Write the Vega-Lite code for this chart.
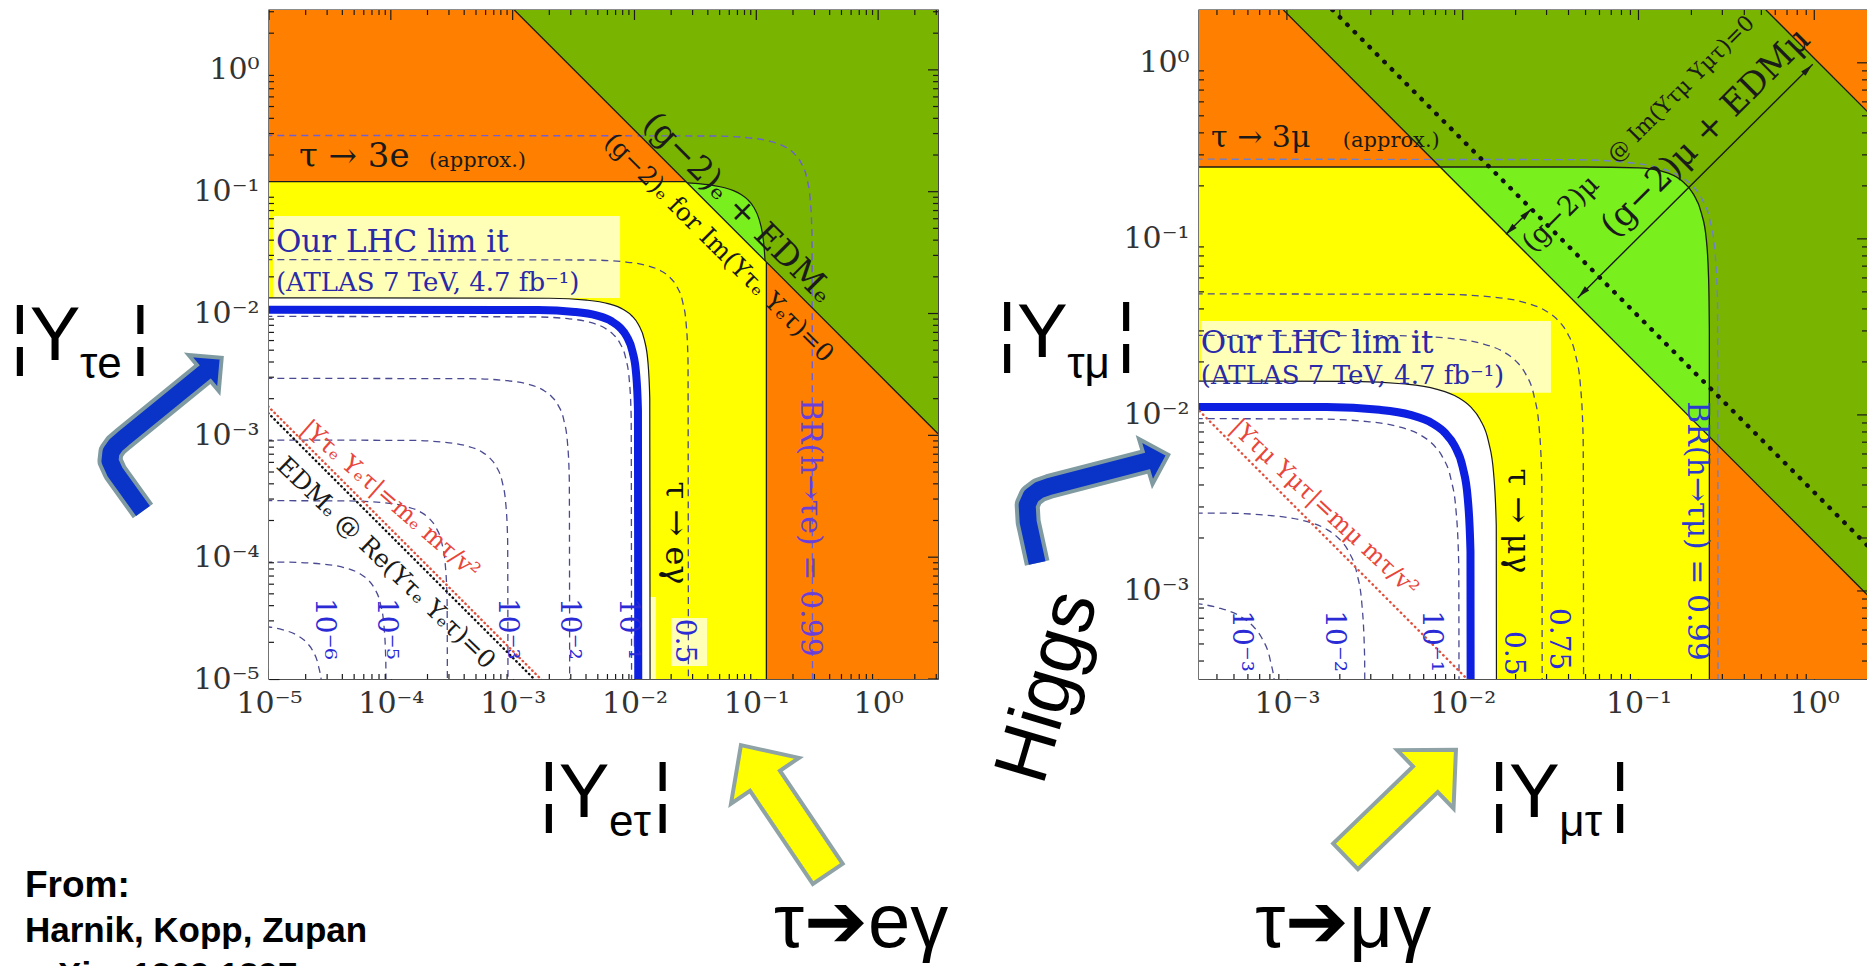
{
"$schema": "https://vega.github.io/schema/vega-lite/v6.json",
"usermeta": {"embedOptions": {"actions": false}},
"background": "white",
"padding": {"left": 9, "top": 9, "right": 0, "bottom": 0},
"bounds": "flush",
"spacing": 261,
"config": {
  "view": {"stroke": "#1a1a1a", "strokeWidth": 1.4},
  "axis": {"grid": false, "ticks": true, "tickSize": -10, "tickWidth": 1.2, "tickColor": "#1a1a1a", "domain": false, "labelFont": "DejaVu Serif", "labelFontSize": 30, "labelColor": "#333333", "labelFlush": false, "labelOverlap": false}
},
"datasets": {
  "tLmin": [{"x":2e-5,"y":1e-5},{"x":3e-5,"y":1e-5},{"x":4e-5,"y":1e-5},{"x":5e-5,"y":1e-5},{"x":6e-5,"y":1e-5},{"x":7e-5,"y":1e-5},{"x":8e-5,"y":1e-5},{"x":9e-5,"y":1e-5},
            {"x":2e-4,"y":1e-5},{"x":3e-4,"y":1e-5},{"x":4e-4,"y":1e-5},{"x":5e-4,"y":1e-5},{"x":6e-4,"y":1e-5},{"x":7e-4,"y":1e-5},{"x":8e-4,"y":1e-5},{"x":9e-4,"y":1e-5},
            {"x":2e-3,"y":1e-5},{"x":3e-3,"y":1e-5},{"x":4e-3,"y":1e-5},{"x":5e-3,"y":1e-5},{"x":6e-3,"y":1e-5},{"x":7e-3,"y":1e-5},{"x":8e-3,"y":1e-5},{"x":9e-3,"y":1e-5},
            {"x":0.02,"y":1e-5},{"x":0.03,"y":1e-5},{"x":0.04,"y":1e-5},{"x":0.05,"y":1e-5},{"x":0.06,"y":1e-5},{"x":0.07,"y":1e-5},{"x":0.08,"y":1e-5},{"x":0.09,"y":1e-5},
            {"x":0.2,"y":1e-5},{"x":0.3,"y":1e-5},{"x":0.4,"y":1e-5},{"x":0.5,"y":1e-5},{"x":0.6,"y":1e-5},{"x":0.7,"y":1e-5},{"x":0.8,"y":1e-5},{"x":0.9,"y":1e-5},
            {"x":2,"y":1e-5},{"x":3,"y":1e-5}],
  "tLall": [{"x":1e-5,"y":3.1,"m":1},{"x":2e-5,"y":3.1},{"x":3e-5,"y":3.1},{"x":4e-5,"y":3.1},{"x":5e-5,"y":3.1},{"x":6e-5,"y":3.1},{"x":7e-5,"y":3.1},{"x":8e-5,"y":3.1},{"x":9e-5,"y":3.1},
            {"x":1e-4,"y":3.1,"m":1},{"x":2e-4,"y":3.1},{"x":3e-4,"y":3.1},{"x":4e-4,"y":3.1},{"x":5e-4,"y":3.1},{"x":6e-4,"y":3.1},{"x":7e-4,"y":3.1},{"x":8e-4,"y":3.1},{"x":9e-4,"y":3.1},
            {"x":1e-3,"y":3.1,"m":1},{"x":2e-3,"y":3.1},{"x":3e-3,"y":3.1},{"x":4e-3,"y":3.1},{"x":5e-3,"y":3.1},{"x":6e-3,"y":3.1},{"x":7e-3,"y":3.1},{"x":8e-3,"y":3.1},{"x":9e-3,"y":3.1},
            {"x":0.01,"y":3.1,"m":1},{"x":0.02,"y":3.1},{"x":0.03,"y":3.1},{"x":0.04,"y":3.1},{"x":0.05,"y":3.1},{"x":0.06,"y":3.1},{"x":0.07,"y":3.1},{"x":0.08,"y":3.1},{"x":0.09,"y":3.1},
            {"x":0.1,"y":3.1,"m":1},{"x":0.2,"y":3.1},{"x":0.3,"y":3.1},{"x":0.4,"y":3.1},{"x":0.5,"y":3.1},{"x":0.6,"y":3.1},{"x":0.7,"y":3.1},{"x":0.8,"y":3.1},{"x":0.9,"y":3.1},
            {"x":1,"y":3.1,"m":1},{"x":2,"y":3.1},{"x":3,"y":3.1}],
  "tRmin": [{"x":4e-4,"y":3.162e-4},{"x":5e-4,"y":3.162e-4},{"x":6e-4,"y":3.162e-4},{"x":7e-4,"y":3.162e-4},{"x":8e-4,"y":3.162e-4},{"x":9e-4,"y":3.162e-4},
            {"x":2e-3,"y":3.162e-4},{"x":3e-3,"y":3.162e-4},{"x":4e-3,"y":3.162e-4},{"x":5e-3,"y":3.162e-4},{"x":6e-3,"y":3.162e-4},{"x":7e-3,"y":3.162e-4},{"x":8e-3,"y":3.162e-4},{"x":9e-3,"y":3.162e-4},
            {"x":0.02,"y":3.162e-4},{"x":0.03,"y":3.162e-4},{"x":0.04,"y":3.162e-4},{"x":0.05,"y":3.162e-4},{"x":0.06,"y":3.162e-4},{"x":0.07,"y":3.162e-4},{"x":0.08,"y":3.162e-4},{"x":0.09,"y":3.162e-4},
            {"x":0.2,"y":3.162e-4},{"x":0.3,"y":3.162e-4},{"x":0.4,"y":3.162e-4},{"x":0.5,"y":3.162e-4},{"x":0.6,"y":3.162e-4},{"x":0.7,"y":3.162e-4},{"x":0.8,"y":3.162e-4},{"x":0.9,"y":3.162e-4}],
  "tRall": [{"x":4e-4,"y":1.995},{"x":5e-4,"y":1.995},{"x":6e-4,"y":1.995},{"x":7e-4,"y":1.995},{"x":8e-4,"y":1.995},{"x":9e-4,"y":1.995},
            {"x":1e-3,"y":1.995,"m":1},{"x":2e-3,"y":1.995},{"x":3e-3,"y":1.995},{"x":4e-3,"y":1.995},{"x":5e-3,"y":1.995},{"x":6e-3,"y":1.995},{"x":7e-3,"y":1.995},{"x":8e-3,"y":1.995},{"x":9e-3,"y":1.995},
            {"x":0.01,"y":1.995,"m":1},{"x":0.02,"y":1.995},{"x":0.03,"y":1.995},{"x":0.04,"y":1.995},{"x":0.05,"y":1.995},{"x":0.06,"y":1.995},{"x":0.07,"y":1.995},{"x":0.08,"y":1.995},{"x":0.09,"y":1.995},
            {"x":0.1,"y":1.995,"m":1},{"x":0.2,"y":1.995},{"x":0.3,"y":1.995},{"x":0.4,"y":1.995},{"x":0.5,"y":1.995},{"x":0.6,"y":1.995},{"x":0.7,"y":1.995},{"x":0.8,"y":1.995},{"x":0.9,"y":1.995},
            {"x":1,"y":1.995,"m":1}],
  "cL": [
    {"c":"c6","x":1e-7,"y":2.85e-5},{"c":"c6","x":4.275e-6,"y":2.818e-5},{"c":"c6","x":8.55e-6,"y":2.719e-5},{"c":"c6","x":1.2825e-5,"y":2.545e-5},{"c":"c6","x":1.71e-5,"y":2.28e-5},{"c":"c6","x":2.015e-5,"y":2.015e-5},{"c":"c6","x":2.28e-5,"y":1.71e-5},{"c":"c6","x":2.545e-5,"y":1.2825e-5},{"c":"c6","x":2.719e-5,"y":8.55e-6},{"c":"c6","x":2.818e-5,"y":4.275e-6},{"c":"c6","x":2.85e-5,"y":1e-7},
    {"c":"c5","x":1e-7,"y":9.2e-5},{"c":"c5","x":1.38e-5,"y":9.096e-5},{"c":"c5","x":2.76e-5,"y":8.777e-5},{"c":"c5","x":4.14e-5,"y":8.216e-5},{"c":"c5","x":5.52e-5,"y":7.36e-5},{"c":"c5","x":6.505e-5,"y":6.505e-5},{"c":"c5","x":7.36e-5,"y":5.52e-5},{"c":"c5","x":8.216e-5,"y":4.14e-5},{"c":"c5","x":8.777e-5,"y":2.76e-5},{"c":"c5","x":9.096e-5,"y":1.38e-5},{"c":"c5","x":9.2e-5,"y":1e-7},
    {"c":"c4","x":1e-7,"y":2.93e-4},{"c":"c4","x":4.395e-5,"y":2.897e-4},{"c":"c4","x":8.79e-5,"y":2.795e-4},{"c":"c4","x":1.3185e-4,"y":2.616e-4},{"c":"c4","x":1.758e-4,"y":2.344e-4},{"c":"c4","x":2.072e-4,"y":2.072e-4},{"c":"c4","x":2.344e-4,"y":1.758e-4},{"c":"c4","x":2.616e-4,"y":1.3185e-4},{"c":"c4","x":2.795e-4,"y":8.79e-5},{"c":"c4","x":2.897e-4,"y":4.395e-5},{"c":"c4","x":2.93e-4,"y":1e-7},
    {"c":"c3","x":1e-7,"y":9.2e-4},{"c":"c3","x":1.38e-4,"y":9.096e-4},{"c":"c3","x":2.76e-4,"y":8.777e-4},{"c":"c3","x":4.14e-4,"y":8.216e-4},{"c":"c3","x":5.52e-4,"y":7.36e-4},{"c":"c3","x":6.505e-4,"y":6.505e-4},{"c":"c3","x":7.36e-4,"y":5.52e-4},{"c":"c3","x":8.216e-4,"y":4.14e-4},{"c":"c3","x":8.777e-4,"y":2.76e-4},{"c":"c3","x":9.096e-4,"y":1.38e-4},{"c":"c3","x":9.2e-4,"y":1e-7},
    {"c":"c2","x":1e-7,"y":2.95e-3},{"c":"c2","x":4.425e-4,"y":2.917e-3},{"c":"c2","x":8.85e-4,"y":2.814e-3},{"c":"c2","x":1.3275e-3,"y":2.634e-3},{"c":"c2","x":1.77e-3,"y":2.36e-3},{"c":"c2","x":2.086e-3,"y":2.086e-3},{"c":"c2","x":2.36e-3,"y":1.77e-3},{"c":"c2","x":2.634e-3,"y":1.3275e-3},{"c":"c2","x":2.814e-3,"y":8.85e-4},{"c":"c2","x":2.917e-3,"y":4.425e-4},{"c":"c2","x":2.95e-3,"y":1e-7},
    {"c":"c1","x":1e-7,"y":9.5e-3},{"c":"c1","x":1.425e-3,"y":9.393e-3},{"c":"c1","x":2.85e-3,"y":9.063e-3},{"c":"c1","x":4.275e-3,"y":8.484e-3},{"c":"c1","x":5.7e-3,"y":7.6e-3},{"c":"c1","x":6.717e-3,"y":6.717e-3},{"c":"c1","x":7.6e-3,"y":5.7e-3},{"c":"c1","x":8.484e-3,"y":4.275e-3},{"c":"c1","x":9.063e-3,"y":2.85e-3},{"c":"c1","x":9.393e-3,"y":1.425e-3},{"c":"c1","x":9.5e-3,"y":1e-7},
    {"c":"c05","x":1e-7,"y":0.0278},{"c":"c05","x":4.17e-3,"y":0.02749},{"c":"c05","x":8.34e-3,"y":0.02652},{"c":"c05","x":0.01251,"y":0.02483},{"c":"c05","x":0.01668,"y":0.02224},{"c":"c05","x":0.01966,"y":0.01966},{"c":"c05","x":0.02224,"y":0.01668},{"c":"c05","x":0.02483,"y":0.01251},{"c":"c05","x":0.02652,"y":8.34e-3},{"c":"c05","x":0.02749,"y":4.17e-3},{"c":"c05","x":0.0278,"y":1e-7},
    {"c":"c99","x":1e-7,"y":0.29},{"c":"c99","x":0.0435,"y":0.2867},{"c":"c99","x":0.087,"y":0.2767},{"c":"c99","x":0.1305,"y":0.259},{"c":"c99","x":0.174,"y":0.232},{"c":"c99","x":0.2051,"y":0.2051},{"c":"c99","x":0.232,"y":0.174},{"c":"c99","x":0.259,"y":0.1305},{"c":"c99","x":0.2767,"y":0.087},{"c":"c99","x":0.2867,"y":0.0435},{"c":"c99","x":0.29,"y":1e-7},
    {"c":"w","x":1e-7,"y":0.0135},{"c":"w","x":2.025e-3,"y":0.013347},{"c":"w","x":4.05e-3,"y":0.012879},{"c":"w","x":6.075e-3,"y":0.012056},{"c":"w","x":8.1e-3,"y":0.0108},{"c":"w","x":9.546e-3,"y":9.546e-3},{"c":"w","x":0.0108,"y":8.1e-3},{"c":"w","x":0.012056,"y":6.075e-3},{"c":"w","x":0.012879,"y":4.05e-3},{"c":"w","x":0.013347,"y":2.025e-3},{"c":"w","x":0.0135,"y":1e-7},
    {"c":"b","x":1e-7,"y":0.0108},{"c":"b","x":1.62e-3,"y":0.010678},{"c":"b","x":3.24e-3,"y":0.010303},{"c":"b","x":4.86e-3,"y":9.644e-3},{"c":"b","x":6.48e-3,"y":8.64e-3},{"c":"b","x":7.637e-3,"y":7.637e-3},{"c":"b","x":8.64e-3,"y":6.48e-3},{"c":"b","x":9.644e-3,"y":4.86e-3},{"c":"b","x":0.010303,"y":3.24e-3},{"c":"b","x":0.010678,"y":1.62e-3},{"c":"b","x":0.0108,"y":1e-7}
  ],
  "cR": [
    {"c":"r3","x":1e-7,"y":9e-4},{"c":"r3","x":1.35e-4,"y":8.898e-4},{"c":"r3","x":2.7e-4,"y":8.586e-4},{"c":"r3","x":4.05e-4,"y":8.037e-4},{"c":"r3","x":5.4e-4,"y":7.2e-4},{"c":"r3","x":6.364e-4,"y":6.364e-4},{"c":"r3","x":7.2e-4,"y":5.4e-4},{"c":"r3","x":8.037e-4,"y":4.05e-4},{"c":"r3","x":8.586e-4,"y":2.7e-4},{"c":"r3","x":8.898e-4,"y":1.35e-4},{"c":"r3","x":9e-4,"y":1e-7},
    {"c":"r2","x":1e-7,"y":2.8e-3},{"c":"r2","x":4.2e-4,"y":2.768e-3},{"c":"r2","x":8.4e-4,"y":2.671e-3},{"c":"r2","x":1.26e-3,"y":2.5e-3},{"c":"r2","x":1.68e-3,"y":2.24e-3},{"c":"r2","x":1.98e-3,"y":1.98e-3},{"c":"r2","x":2.24e-3,"y":1.68e-3},{"c":"r2","x":2.5e-3,"y":1.26e-3},{"c":"r2","x":2.671e-3,"y":8.4e-4},{"c":"r2","x":2.768e-3,"y":4.2e-4},{"c":"r2","x":2.8e-3,"y":1e-7},
    {"c":"r1","x":1e-7,"y":9.6e-3},{"c":"r1","x":1.44e-3,"y":9.492e-3},{"c":"r1","x":2.88e-3,"y":9.158e-3},{"c":"r1","x":4.32e-3,"y":8.573e-3},{"c":"r1","x":5.76e-3,"y":7.68e-3},{"c":"r1","x":6.788e-3,"y":6.788e-3},{"c":"r1","x":7.68e-3,"y":5.76e-3},{"c":"r1","x":8.573e-3,"y":4.32e-3},{"c":"r1","x":9.158e-3,"y":2.88e-3},{"c":"r1","x":9.492e-3,"y":1.44e-3},{"c":"r1","x":9.6e-3,"y":1e-7},
    {"c":"r05","x":1e-7,"y":0.0285},{"c":"r05","x":4.275e-3,"y":0.02818},{"c":"r05","x":8.55e-3,"y":0.02719},{"c":"r05","x":0.012825,"y":0.02545},{"c":"r05","x":0.0171,"y":0.0228},{"c":"r05","x":0.02015,"y":0.02015},{"c":"r05","x":0.0228,"y":0.0171},{"c":"r05","x":0.02545,"y":0.012825},{"c":"r05","x":0.02719,"y":8.55e-3},{"c":"r05","x":0.02818,"y":4.275e-3},{"c":"r05","x":0.0285,"y":1e-7},
    {"c":"r75","x":1e-7,"y":0.049},{"c":"r75","x":7.35e-3,"y":0.04845},{"c":"r75","x":0.0147,"y":0.04675},{"c":"r75","x":0.02205,"y":0.04376},{"c":"r75","x":0.0294,"y":0.0392},{"c":"r75","x":0.03465,"y":0.03465},{"c":"r75","x":0.0392,"y":0.0294},{"c":"r75","x":0.04376,"y":0.02205},{"c":"r75","x":0.04675,"y":0.0147},{"c":"r75","x":0.04845,"y":7.35e-3},{"c":"r75","x":0.049,"y":1e-7},
    {"c":"r99","x":1e-7,"y":0.285},{"c":"r99","x":0.04275,"y":0.2818},{"c":"r99","x":0.0855,"y":0.2719},{"c":"r99","x":0.12825,"y":0.2545},{"c":"r99","x":0.171,"y":0.228},{"c":"r99","x":0.2015,"y":0.2015},{"c":"r99","x":0.228,"y":0.171},{"c":"r99","x":0.2545,"y":0.12825},{"c":"r99","x":0.2719,"y":0.0855},{"c":"r99","x":0.2818,"y":0.04275},{"c":"r99","x":0.285,"y":1e-7},
    {"c":"w","x":1e-7,"y":0.0157},{"c":"w","x":2.355e-3,"y":0.015523},{"c":"w","x":4.71e-3,"y":0.014978},{"c":"w","x":7.065e-3,"y":0.01402},{"c":"w","x":9.42e-3,"y":0.01256},{"c":"w","x":0.011101,"y":0.011101},{"c":"w","x":0.01256,"y":9.42e-3},{"c":"w","x":0.01402,"y":7.065e-3},{"c":"w","x":0.014978,"y":4.71e-3},{"c":"w","x":0.015523,"y":2.355e-3},{"c":"w","x":0.0157,"y":1e-7},
    {"c":"b","x":1e-7,"y":0.0112},{"c":"b","x":1.68e-3,"y":0.011073},{"c":"b","x":3.36e-3,"y":0.010685},{"c":"b","x":5.04e-3,"y":0.010002},{"c":"b","x":6.72e-3,"y":8.96e-3},{"c":"b","x":7.92e-3,"y":7.92e-3},{"c":"b","x":8.96e-3,"y":6.72e-3},{"c":"b","x":0.010002,"y":5.04e-3},{"c":"b","x":0.010685,"y":3.36e-3},{"c":"b","x":0.011073,"y":1.68e-3},{"c":"b","x":0.0112,"y":1e-7}
  ],
  "lgL": [{"x":0.02714,"y":0.11792,"y2":0.1179},{"x":0.035,"y":0.11583,"y2":0.09143},{"x":0.045,"y":0.11232,"y2":0.07111},{"x":0.055,"y":0.10778,"y2":0.05818},{"x":0.065,"y":0.10206,"y2":0.04923},{"x":0.075,"y":0.09495,"y2":0.04267},{"x":0.085,"y":0.08612,"y2":0.03765},{"x":0.095,"y":0.07494,"y2":0.03368},{"x":0.105,"y":0.06013,"y2":0.03048},{"x":0.112,"y":0.04579,"y2":0.02857},{"x":0.116,"y":0.03442,"y2":0.02759},{"x":0.11792,"y":0.02714,"y2":0.02714}],
  "lgR": [{"x":7.44e-3,"y":0.256,"y2":0.256},{"x":0.02,"y":0.256,"y2":0.09525},{"x":0.05,"y":0.256,"y2":0.0381},{"x":0.1,"y":0.253,"y2":0.01905},{"x":0.134,"y":0.243,"y2":0.01422},{"x":0.175,"y":0.215,"y2":0.01089},{"x":0.205,"y":0.18,"y2":0.00929},{"x":0.228,"y":0.14,"y2":0.00836},{"x":0.243,"y":0.1,"y2":0.00784},{"x":0.2505,"y":0.06,"y2":0.0076},{"x":0.253,"y":0.03,"y2":0.00753},{"x":0.2531,"y":0.00753,"y2":0.00753}],
  "arr": [
    {"a":"L","i":0,"x":9.237e-7,"y":2.395e-4},{"a":"L","i":1,"x":5.439e-7,"y":5.006e-4},{"a":"L","i":2,"x":4.95e-7,"y":6.163e-4},{"a":"L","i":3,"x":5.044e-7,"y":7.306e-4},{"a":"L","i":4,"x":5.542e-7,"y":8.34e-4},{"a":"L","i":5,"x":6.329e-7,"y":9.341e-4},{"a":"L","i":6,"x":3.068e-6,"y":3.378e-3},
    {"a":"R","i":0,"x":20.2,"y":8.96e-5},{"a":"R","i":1,"x":17.04,"y":1.945e-4},{"a":"R","i":2,"x":16.72,"y":2.683e-4},{"a":"R","i":3,"x":18.04,"y":3.181e-4},{"a":"R","i":4,"x":20.98,"y":3.562e-4},{"a":"R","i":5,"x":25.34,"y":3.806e-4},{"a":"R","i":6,"x":171.1,"y":6.246e-4}
  ]
},
"hconcat": [
{
  "width": 669, "height": 669,
  "encoding": {
    "x": {"field": "x", "type": "quantitative", "scale": {"type": "log", "domain": [1e-5, 3.1], "nice": false}, "axis": {"title": null, "values": [1e-5, 1e-4, 1e-3, 0.01, 0.1, 1], "labelPadding": 19, "labelExpr": "datum.value < 2e-5 ? '10⁻⁵' : datum.value < 2e-4 ? '10⁻⁴' : datum.value < 2e-3 ? '10⁻³' : datum.value < 0.02 ? '10⁻²' : datum.value < 0.2 ? '10⁻¹' : '10⁰'"}},
    "y": {"field": "y", "type": "quantitative", "stack": null, "scale": {"type": "log", "domain": [1e-5, 3.1], "nice": false}, "axis": {"title": null, "values": [1e-5, 1e-4, 1e-3, 0.01, 0.1, 1], "labelPadding": 20, "labelExpr": "datum.value < 2e-5 ? '10⁻⁵' : datum.value < 2e-4 ? '10⁻⁴' : datum.value < 2e-3 ? '10⁻³' : datum.value < 0.02 ? '10⁻²' : datum.value < 0.2 ? '10⁻¹' : '10⁰'"}}
  },
  "layer": [
    {"data": {"values": [{"x": 1e-5, "x2": 3.1, "y": 1e-5, "y2": 3.1}]}, "mark": {"type": "rect", "color": "#ff8000"}, "encoding": {"x2": {"field": "x2"}, "y2": {"field": "y2"}}},
    {"data": {"values": [{"x": 1e-5, "x2": 0.121, "y": 1e-5, "y2": 0.121}]}, "mark": {"type": "rect", "color": "#ffff00"}, "encoding": {"x2": {"field": "x2"}, "y2": {"field": "y2"}}},
    {"data": {"values": [{"x": 1.032e-3, "y": 3.1, "y2": 3.1}, {"x": 3.1, "y": 1.032e-3, "y2": 3.1}]}, "mark": {"type": "area", "color": "#78b400", "clip": true}, "encoding": {"y2": {"field": "y2"}}},
    {"data": {"name": "lgL"}, "mark": {"type": "area", "color": "#7aef1e", "interpolate": "monotone", "clip": true}, "encoding": {"y2": {"field": "y2"}}},
    {"data": {"name": "cL"}, "transform": [{"filter": "datum.c == 'w'"}], "mark": {"type": "area", "color": "#ffffff", "interpolate": "monotone", "clip": true}, "encoding": {"y2": {"datum": 1e-7}}},
    {"data": {"values": [{"x": 1.08e-5, "x2": 7.62e-3, "y": 0.01343, "y2": 0.0632}, {"x": 0.01995, "x2": 0.0394, "y": 1.28e-5, "y2": 3.17e-5}, {"x": 6.67e-3, "x2": 0.01503, "y": 1e-5, "y2": 4.71e-5}]}, "mark": {"type": "rect", "color": "#ffffff", "opacity": 0.72}, "encoding": {"x2": {"field": "x2"}, "y2": {"field": "y2"}}},
    {"data": {"name": "cL"}, "transform": [{"filter": {"field": "c", "oneOf": ["c6", "c5", "c4", "c3", "c2", "c1", "c05"]}}], "mark": {"type": "line", "color": "#4a4a92", "strokeWidth": 1.3, "strokeDash": [7, 5], "interpolate": "monotone", "clip": true}, "encoding": {"detail": {"field": "c"}}},
    {"data": {"name": "cL"}, "transform": [{"filter": "datum.c == 'c99'"}], "mark": {"type": "line", "color": "#6e5fd6", "strokeWidth": 1.4, "strokeDash": [7, 5], "interpolate": "monotone", "clip": true}, "encoding": {}},
    {"data": {"values": [{"s": "d", "x": 1.032e-3, "y": 3.1}, {"s": "d", "x": 3.1, "y": 1.032e-3}, {"s": "h", "x": 1e-5, "y": 0.121}, {"s": "h", "x": 0.02645, "y": 0.121}, {"s": "v", "x": 0.121, "y": 1e-5}, {"s": "v", "x": 0.121, "y": 0.02645}]}, "mark": {"type": "line", "color": "#1a1a1a", "strokeWidth": 1.3, "clip": true}, "encoding": {"detail": {"field": "s"}}},
    {"data": {"name": "cL"}, "transform": [{"filter": "datum.c == 'w'"}], "mark": {"type": "line", "color": "#1a1a1a", "strokeWidth": 1.2, "interpolate": "monotone", "clip": true}, "encoding": {}},
    {"data": {"name": "lgL"}, "mark": {"type": "line", "color": "#1a1a1a", "strokeWidth": 1.2, "interpolate": "monotone", "clip": true}, "encoding": {}},
    {"data": {"name": "cL"}, "transform": [{"filter": "datum.c == 'b'"}], "mark": {"type": "line", "color": "#0d1fe0", "strokeWidth": 8, "interpolate": "monotone", "clip": true}, "encoding": {}},
    {"data": {"values": [{"x": 1e-6, "y": 0.015}, {"x": 0.015, "y": 1e-6}]}, "mark": {"type": "line", "color": "#111111", "strokeWidth": 2.4, "strokeDash": [0.5, 4], "strokeCap": "round", "clip": true}, "encoding": {}},
    {"data": {"values": [{"x": 1e-6, "y": 0.017}, {"x": 0.017, "y": 1e-6}]}, "mark": {"type": "line", "color": "#e0503c", "strokeWidth": 2.4, "strokeDash": [0.5, 4], "strokeCap": "round", "clip": true}, "encoding": {}},

    {"data": {"values": [{"t": "τ → 3e", "x": 1.76e-5, "y": 0.158}]}, "mark": {"type": "text", "font": "DejaVu Serif", "fontSize": 34, "color": "#1a1a1a", "align": "left", "baseline": "alphabetic", "clip": true}, "encoding": {"text": {"field": "t"}}},
    {"data": {"values": [{"t": "(approx.)", "x": 2.06e-4, "y": 0.158}]}, "mark": {"type": "text", "font": "DejaVu Serif", "fontSize": 21, "color": "#1a1a1a", "align": "left", "baseline": "alphabetic", "clip": true}, "encoding": {"text": {"field": "t"}}},
    {"data": {"values": [{"t": "(g−2)ₑ + EDMₑ", "x": 0.071, "y": 0.0736}]}, "mark": {"type": "text", "font": "DejaVu Serif", "fontSize": 33, "color": "#1a1a1a", "angle": 45, "align": "center", "baseline": "middle", "clip": true}, "encoding": {"text": {"field": "t"}}},
    {"data": {"values": [{"t": "(g−2)ₑ for Im(Yτₑ Yₑτ)=0", "x": 0.0495, "y": 0.0346}]}, "mark": {"type": "text", "font": "DejaVu Serif", "fontSize": 25, "color": "#1a1a1a", "angle": 45, "align": "center", "baseline": "middle", "clip": true}, "encoding": {"text": {"field": "t"}}},
    {"data": {"values": [{"t": "Our LHC lim it", "x": 1.14e-5, "y": 0.0321}]}, "mark": {"type": "text", "font": "DejaVu Serif", "fontSize": 31, "color": "#2a2aa8", "align": "left", "baseline": "alphabetic", "clip": true}, "encoding": {"text": {"field": "t"}}},
    {"data": {"values": [{"t": "(ATLAS 7 TeV, 4.7 fb⁻¹)", "x": 1.14e-5, "y": 0.0152}]}, "mark": {"type": "text", "font": "DejaVu Serif", "fontSize": 26, "color": "#2a2aa8", "align": "left", "baseline": "alphabetic", "clip": true}, "encoding": {"text": {"field": "t"}}},
    {"data": {"values": [{"t": "τ → eγ", "x": 0.022, "y": 1.58e-4}]}, "mark": {"type": "text", "font": "DejaVu Serif", "fontSize": 32, "color": "#111111", "angle": 90, "align": "center", "baseline": "middle", "clip": true}, "encoding": {"text": {"field": "t"}}},
    {"data": {"values": [{"t": "BR(h→τe) = 0.99", "x": 0.2767, "y": 1.74e-4}]}, "mark": {"type": "text", "font": "DejaVu Serif", "fontSize": 30, "color": "#6a3fd8", "angle": 90, "align": "center", "baseline": "middle", "clip": true}, "encoding": {"text": {"field": "t"}}},
    {"data": {"values": [{"t": "10⁻⁶", "x": 2.85e-5, "y": 2.58e-5}, {"t": "10⁻⁵", "x": 9.2e-5, "y": 2.58e-5}, {"t": "10⁻³", "x": 9.0e-4, "y": 2.58e-5}, {"t": "10⁻²", "x": 2.9e-3, "y": 2.58e-5}, {"t": "10⁻¹", "x": 8.85e-3, "y": 2.58e-5}, {"t": "0.5", "x": 0.0255, "y": 2.05e-5}]}, "mark": {"type": "text", "font": "DejaVu Serif", "fontSize": 28, "color": "#2b2bd6", "angle": 90, "align": "center", "baseline": "middle", "clip": true}, "encoding": {"text": {"field": "t"}}},
    {"data": {"values": [{"t": "|Yτₑ Yₑτ|=mₑ mτ/v²", "x": 9.84e-5, "y": 2.95e-4}]}, "mark": {"type": "text", "font": "DejaVu Serif", "fontSize": 24, "color": "#e8463a", "angle": 41, "align": "center", "baseline": "middle", "clip": true}, "encoding": {"text": {"field": "t"}}},
    {"data": {"values": [{"t": "EDMₑ @ Re(Yτₑ Yₑτ)=0", "x": 9.14e-5, "y": 8.95e-5}]}, "mark": {"type": "text", "font": "DejaVu Serif", "fontSize": 25, "color": "#1a1a1a", "angle": 44, "align": "center", "baseline": "middle", "clip": true}, "encoding": {"text": {"field": "t"}}},

    {"data": {"name": "tLmin"}, "mark": {"type": "tick", "orient": "vertical", "size": 10, "thickness": 1.2, "color": "#1a1a1a", "opacity": 1, "clip": true}, "encoding": {}},
    {"data": {"name": "tLmin"}, "mark": {"type": "tick", "orient": "horizontal", "size": 10, "thickness": 1.2, "color": "#1a1a1a", "opacity": 1, "clip": true}, "encoding": {"x": {"field": "y", "type": "quantitative"}, "y": {"field": "x", "type": "quantitative"}}},
    {"data": {"name": "tLall"}, "mark": {"type": "tick", "orient": "vertical", "thickness": 1.2, "color": "#1a1a1a", "opacity": 1, "clip": true}, "encoding": {"size": {"condition": {"test": "datum.m == 1", "value": 20}, "value": 10}}},
    {"data": {"name": "tLall"}, "mark": {"type": "tick", "orient": "horizontal", "thickness": 1.2, "color": "#1a1a1a", "opacity": 1, "clip": true}, "encoding": {"x": {"field": "y", "type": "quantitative"}, "y": {"field": "x", "type": "quantitative"}, "size": {"condition": {"test": "datum.m == 1", "value": 20}, "value": 10}}},

    {"data": {"values": [{"t": "¦Y", "x": 7.474e-8, "y": 4.159e-3}, {"t": "¦", "x": 7.306e-7, "y": 4.159e-3}, {"t": "¦Y", "x": 1.647e-3, "y": 7.362e-7}, {"t": "¦", "x": 0.01411, "y": 7.362e-7}, {"t": "¦Y", "x": 9.484, "y": 4.402e-3}, {"t": "¦", "x": 89.95, "y": 4.402e-3}, {"t": "¦Y", "x": 1.039e5, "y": 7.362e-7}, {"t": "¦", "x": 1.023e6, "y": 7.362e-7}]}, "mark": {"type": "text", "font": "Liberation Sans", "fontSize": 76, "color": "#000000", "align": "left", "baseline": "alphabetic"}, "encoding": {"text": {"field": "t"}}},
    {"data": {"values": [{"t": "τe", "x": 2.808e-7, "y": 2.96e-3}, {"t": "eτ", "x": 6.186e-3, "y": 5.14e-7}, {"t": "τμ", "x": 35.63, "y": 2.96e-3}, {"t": "μτ", "x": 3.9e5, "y": 5.14e-7}]}, "mark": {"type": "text", "font": "Liberation Sans", "fontSize": 44, "color": "#000000", "align": "left", "baseline": "alphabetic"}, "encoding": {"text": {"field": "t"}}},
    {"data": {"values": [{"t": "Higgs", "x": 24.87, "y": 8.59e-6}]}, "mark": {"type": "text", "font": "Liberation Sans", "fontSize": 76, "color": "#000000", "angle": -73.5, "align": "center", "baseline": "middle"}, "encoding": {"text": {"field": "t"}}},
    {"data": {"values": [{"t": "τ➔eγ", "x": 0.7251, "y": 6.306e-8}, {"t": "τ➔μγ", "x": 6573, "y": 6.306e-8}]}, "mark": {"type": "text", "font": "Liberation Sans", "fontSize": 76, "color": "#000000", "align": "center", "baseline": "alphabetic"}, "encoding": {"text": {"field": "t"}}},
    {"data": {"values": [{"t": "From:", "x": 9.925e-8, "y": 1.632e-7}]}, "mark": {"type": "text", "font": "Liberation Sans", "fontWeight": "bold", "fontSize": 37, "color": "#000000", "align": "left", "baseline": "alphabetic"}, "encoding": {"text": {"field": "t"}}},
    {"data": {"values": [{"t": "Harnik, Kopp, Zupan", "x": 9.925e-8, "y": 6.968e-8}, {"t": "arXiv: 1209.1397", "x": 9.925e-8, "y": 2.977e-8}]}, "mark": {"type": "text", "font": "Liberation Sans", "fontWeight": "bold", "fontSize": 35, "color": "#000000", "align": "left", "baseline": "alphabetic"}, "encoding": {"text": {"field": "t"}}},

    {"data": {"name": "arr"}, "mark": {"type": "line", "color": "#7f9aa1", "strokeWidth": 25, "strokeJoin": "round", "strokeCap": "butt"}, "encoding": {"detail": {"field": "a"}, "order": {"field": "i"}}},
    {"data": {"values": [{"x": 3.45e-6, "y": 3.75e-3}]}, "mark": {"type": "point", "shape": "M-1,0.5L0,-0.5L1,0.5Z", "size": 2209, "angle": 50, "filled": true, "fill": "#0a33c8", "stroke": "#7f9aa1", "strokeWidth": 4, "opacity": 1}, "encoding": {}},
    {"data": {"values": [{"x": 194.5, "y": 6.499e-4}]}, "mark": {"type": "point", "shape": "M-1,0.5L0,-0.5L1,0.5Z", "size": 2209, "angle": 73.3, "filled": true, "fill": "#0a33c8", "stroke": "#7f9aa1", "strokeWidth": 4, "opacity": 1}, "encoding": {}},
    {"data": {"name": "arr"}, "mark": {"type": "line", "color": "#0a33c8", "strokeWidth": 17, "strokeJoin": "round", "strokeCap": "butt"}, "encoding": {"detail": {"field": "a"}, "order": {"field": "i"}}},
    {"data": {"values": [{"x": 0.1699, "y": 8.485e-7}]}, "mark": {"type": "point", "shape": "M0,-1L0.528,-0.446L0.232,-0.446L0.232,1L-0.232,1L-0.232,-0.446L-0.528,-0.446Z", "size": 24118, "angle": -34, "filled": true, "fill": "#ffff00", "stroke": "#8fa3a7", "strokeWidth": 4, "opacity": 1}, "encoding": {}},
    {"data": {"values": [{"x": 19490, "y": 9.592e-7}]}, "mark": {"type": "point", "shape": "M0,-1L0.528,-0.446L0.232,-0.446L0.232,1L-0.232,1L-0.232,-0.446L-0.528,-0.446Z", "size": 23562, "angle": 46, "filled": true, "fill": "#ffff00", "stroke": "#8fa3a7", "strokeWidth": 4, "opacity": 1}, "encoding": {}}
  ]
},
{
  "width": 668, "height": 669,
  "encoding": {
    "x": {"field": "x", "type": "quantitative", "scale": {"type": "log", "domain": [3.162e-4, 1.995], "nice": false}, "axis": {"title": null, "values": [1e-3, 0.01, 0.1, 1], "labelPadding": 19, "labelExpr": "datum.value < 2e-5 ? '10⁻⁵' : datum.value < 2e-4 ? '10⁻⁴' : datum.value < 2e-3 ? '10⁻³' : datum.value < 0.02 ? '10⁻²' : datum.value < 0.2 ? '10⁻¹' : '10⁰'"}},
    "y": {"field": "y", "type": "quantitative", "stack": null, "scale": {"type": "log", "domain": [3.162e-4, 1.995], "nice": false}, "axis": {"title": null, "values": [1e-3, 0.01, 0.1, 1], "labelPadding": 20, "labelExpr": "datum.value < 2e-5 ? '10⁻⁵' : datum.value < 2e-4 ? '10⁻⁴' : datum.value < 2e-3 ? '10⁻³' : datum.value < 0.02 ? '10⁻²' : datum.value < 0.2 ? '10⁻¹' : '10⁰'"}}
  },
  "layer": [
    {"data": {"values": [{"x": 3.162e-4, "x2": 1.995, "y": 3.162e-4, "y2": 1.995}]}, "mark": {"type": "rect", "color": "#ff8000"}, "encoding": {"x2": {"field": "x2"}, "y2": {"field": "y2"}}},
    {"data": {"values": [{"x": 3.162e-4, "x2": 0.253, "y": 3.162e-4, "y2": 0.256}]}, "mark": {"type": "rect", "color": "#ffff00"}, "encoding": {"x2": {"field": "x2"}, "y2": {"field": "y2"}}},
    {"data": {"values": [{"x": 9.525e-4, "y": 2.0, "y2": 2.0}, {"x": 0.53, "y": 2.0, "y2": 3.594e-3}, {"x": 2.0, "y": 0.53, "y2": 9.525e-4}]}, "mark": {"type": "area", "color": "#78b400", "clip": true}, "encoding": {"y2": {"field": "y2"}}},
    {"data": {"name": "lgR"}, "mark": {"type": "area", "color": "#7aef1e", "interpolate": "monotone", "clip": true}, "encoding": {"y2": {"field": "y2"}}},
    {"data": {"name": "cR"}, "transform": [{"filter": "datum.c == 'w'"}], "mark": {"type": "area", "color": "#ffffff", "interpolate": "monotone", "clip": true}, "encoding": {"y2": {"datum": 1e-7}}},
    {"data": {"values": [{"x": 3.24e-4, "x2": 0.03177, "y": 0.01336, "y2": 0.0341}]}, "mark": {"type": "rect", "color": "#ffffff", "opacity": 0.72}, "encoding": {"x2": {"field": "x2"}, "y2": {"field": "y2"}}},
    {"data": {"name": "cR"}, "transform": [{"filter": {"field": "c", "oneOf": ["r3", "r2", "r1", "r05", "r75"]}}], "mark": {"type": "line", "color": "#4a4a92", "strokeWidth": 1.3, "strokeDash": [7, 5], "interpolate": "monotone", "clip": true}, "encoding": {"detail": {"field": "c"}}},
    {"data": {"name": "cR"}, "transform": [{"filter": "datum.c == 'r99'"}], "mark": {"type": "line", "color": "#6f7fd0", "strokeWidth": 1.4, "strokeDash": [7, 5], "interpolate": "monotone", "clip": true}, "encoding": {}},
    {"data": {"values": [{"s": "a", "x": 9.525e-4, "y": 2.0}, {"s": "a", "x": 2.0, "y": 9.525e-4}, {"s": "b", "x": 0.53, "y": 2.0}, {"s": "b", "x": 2.0, "y": 0.53}]}, "mark": {"type": "line", "color": "#1a1a1a", "strokeWidth": 1.3, "clip": true}, "encoding": {"detail": {"field": "s"}}},
    {"data": {"values": [{"x": 3.162e-4, "y": 0.256}, {"x": 0.02, "y": 0.256}, {"x": 0.05, "y": 0.256}, {"x": 0.1, "y": 0.253}, {"x": 0.134, "y": 0.243}, {"x": 0.175, "y": 0.215}, {"x": 0.205, "y": 0.18}, {"x": 0.228, "y": 0.14}, {"x": 0.243, "y": 0.1}, {"x": 0.2505, "y": 0.06}, {"x": 0.253, "y": 0.03}, {"x": 0.2531, "y": 3.0e-4}]}, "mark": {"type": "line", "color": "#1a1a1a", "strokeWidth": 1.3, "interpolate": "monotone", "clip": true}, "encoding": {}},
    {"data": {"name": "cR"}, "transform": [{"filter": "datum.c == 'w'"}], "mark": {"type": "line", "color": "#1a1a1a", "strokeWidth": 1.2, "interpolate": "monotone", "clip": true}, "encoding": {}},
    {"data": {"name": "cR"}, "transform": [{"filter": "datum.c == 'b'"}], "mark": {"type": "line", "color": "#0d1fe0", "strokeWidth": 8, "interpolate": "monotone", "clip": true}, "encoding": {}},
    {"data": {"values": [{"x": 1.815e-3, "y": 2.0}, {"x": 2.0, "y": 1.815e-3}]}, "mark": {"type": "line", "color": "#111111", "strokeWidth": 4.5, "strokeDash": [0.5, 10], "strokeCap": "round", "clip": true}, "encoding": {}},
    {"data": {"values": [{"x": 1e-4, "y": 0.0335}, {"x": 0.0335, "y": 1e-4}]}, "mark": {"type": "line", "color": "#e0503c", "strokeWidth": 2.4, "strokeDash": [0.5, 4.5], "strokeCap": "round", "clip": true}, "encoding": {}},
    {"data": {"values": [{"x": 0.0451, "y": 0.0462, "x2": 0.98, "y2": 0.981}, {"x": 0.01762, "y": 0.1062, "x2": 0.02449, "y2": 0.1472}]}, "mark": {"type": "rule", "color": "#1a1a1a", "strokeWidth": 1.4, "clip": true}, "encoding": {"x2": {"field": "x2"}, "y2": {"field": "y2"}}},
    {"data": {"values": [{"x": 0.04816, "y": 0.0494}, {"x": 0.01863, "y": 0.112}]}, "mark": {"type": "point", "shape": "M-0.5,1L0,-1L0.5,1Z", "size": 150, "angle": 225, "filled": true, "color": "#1a1a1a", "opacity": 1, "clip": true}, "encoding": {}},
    {"data": {"values": [{"x": 0.9173, "y": 0.9186}, {"x": 0.02315, "y": 0.1392}]}, "mark": {"type": "point", "shape": "M-0.5,1L0,-1L0.5,1Z", "size": 150, "angle": 45, "filled": true, "color": "#1a1a1a", "opacity": 1, "clip": true}, "encoding": {}},

    {"data": {"values": [{"t": "τ → 3μ", "x": 3.7e-4, "y": 0.3327}]}, "mark": {"type": "text", "font": "DejaVu Serif", "fontSize": 30, "color": "#1a1a1a", "align": "left", "baseline": "alphabetic", "clip": true}, "encoding": {"text": {"field": "t"}}},
    {"data": {"values": [{"t": "(approx.)", "x": 2.08e-3, "y": 0.3327}]}, "mark": {"type": "text", "font": "DejaVu Serif", "fontSize": 21, "color": "#1a1a1a", "align": "left", "baseline": "alphabetic", "clip": true}, "encoding": {"text": {"field": "t"}}},
    {"data": {"values": [{"t": "Our LHC lim it", "x": 3.24e-4, "y": 0.02254}]}, "mark": {"type": "text", "font": "DejaVu Serif", "fontSize": 31, "color": "#2a2aa8", "align": "left", "baseline": "alphabetic", "clip": true}, "encoding": {"text": {"field": "t"}}},
    {"data": {"values": [{"t": "(ATLAS 7 TeV, 4.7 fb⁻¹)", "x": 3.24e-4, "y": 0.0149}]}, "mark": {"type": "text", "font": "DejaVu Serif", "fontSize": 26, "color": "#2a2aa8", "align": "left", "baseline": "alphabetic", "clip": true}, "encoding": {"text": {"field": "t"}}},
    {"data": {"values": [{"t": "τ → μγ", "x": 0.02065, "y": 2.5e-3}]}, "mark": {"type": "text", "font": "DejaVu Serif", "fontSize": 32, "color": "#111111", "angle": 90, "align": "center", "baseline": "middle", "clip": true}, "encoding": {"text": {"field": "t"}}},
    {"data": {"values": [{"t": "BR(h→τμ) = 0.99", "x": 0.2155, "y": 2.19e-3}]}, "mark": {"type": "text", "font": "DejaVu Serif", "fontSize": 30, "color": "#2a3ad0", "angle": 90, "align": "center", "baseline": "middle", "clip": true}, "encoding": {"text": {"field": "t"}}},
    {"data": {"values": [{"t": "10⁻³", "x": 5.48e-4, "y": 5.19e-4}, {"t": "10⁻²", "x": 1.853e-3, "y": 5.19e-4}, {"t": "10⁻¹", "x": 6.61e-3, "y": 5.19e-4}, {"t": "0.5", "x": 0.01931, "y": 4.43e-4}, {"t": "0.75", "x": 0.03483, "y": 5.32e-4}]}, "mark": {"type": "text", "font": "DejaVu Serif", "fontSize": 28, "color": "#2b2bd6", "angle": 90, "align": "center", "baseline": "middle", "clip": true}, "encoding": {"text": {"field": "t"}}},
    {"data": {"values": [{"t": "|Yτμ Yμτ|=mμ mτ/v²", "x": 1.626e-3, "y": 2.95e-3}]}, "mark": {"type": "text", "font": "DejaVu Serif", "fontSize": 24, "color": "#e8463a", "angle": 43, "align": "center", "baseline": "middle", "clip": true}, "encoding": {"text": {"field": "t"}}},
    {"data": {"values": [{"t": "(g−2)μ", "x": 0.03622, "y": 0.1384}]}, "mark": {"type": "text", "font": "DejaVu Serif", "fontSize": 27, "color": "#1a1a1a", "angle": -45, "align": "center", "baseline": "middle", "clip": true}, "encoding": {"text": {"field": "t"}}},
    {"data": {"values": [{"t": "@ Im(Yτμ Yμτ)=0", "x": 0.1746, "y": 0.7096}]}, "mark": {"type": "text", "font": "DejaVu Serif", "fontSize": 22, "color": "#1a1a1a", "angle": -45, "align": "center", "baseline": "middle", "clip": true}, "encoding": {"text": {"field": "t"}}},
    {"data": {"values": [{"t": "(g−2)μ + EDMμ", "x": 0.2421, "y": 0.399}]}, "mark": {"type": "text", "font": "DejaVu Serif", "fontSize": 34, "color": "#1a1a1a", "angle": -45, "align": "center", "baseline": "middle", "clip": true}, "encoding": {"text": {"field": "t"}}},

    {"data": {"name": "tRmin"}, "mark": {"type": "tick", "orient": "vertical", "size": 10, "thickness": 1.2, "color": "#1a1a1a", "opacity": 1, "clip": true}, "encoding": {}},
    {"data": {"name": "tRmin"}, "mark": {"type": "tick", "orient": "horizontal", "size": 10, "thickness": 1.2, "color": "#1a1a1a", "opacity": 1, "clip": true}, "encoding": {"x": {"field": "y", "type": "quantitative"}, "y": {"field": "x", "type": "quantitative"}}},
    {"data": {"name": "tRall"}, "mark": {"type": "tick", "orient": "vertical", "thickness": 1.2, "color": "#1a1a1a", "opacity": 1, "clip": true}, "encoding": {"size": {"condition": {"test": "datum.m == 1", "value": 20}, "value": 10}}},
    {"data": {"name": "tRall"}, "mark": {"type": "tick", "orient": "horizontal", "thickness": 1.2, "color": "#1a1a1a", "opacity": 1, "clip": true}, "encoding": {"x": {"field": "y", "type": "quantitative"}, "y": {"field": "x", "type": "quantitative"}, "size": {"condition": {"test": "datum.m == 1", "value": 20}, "value": 10}}}
  ]
}
]
}
